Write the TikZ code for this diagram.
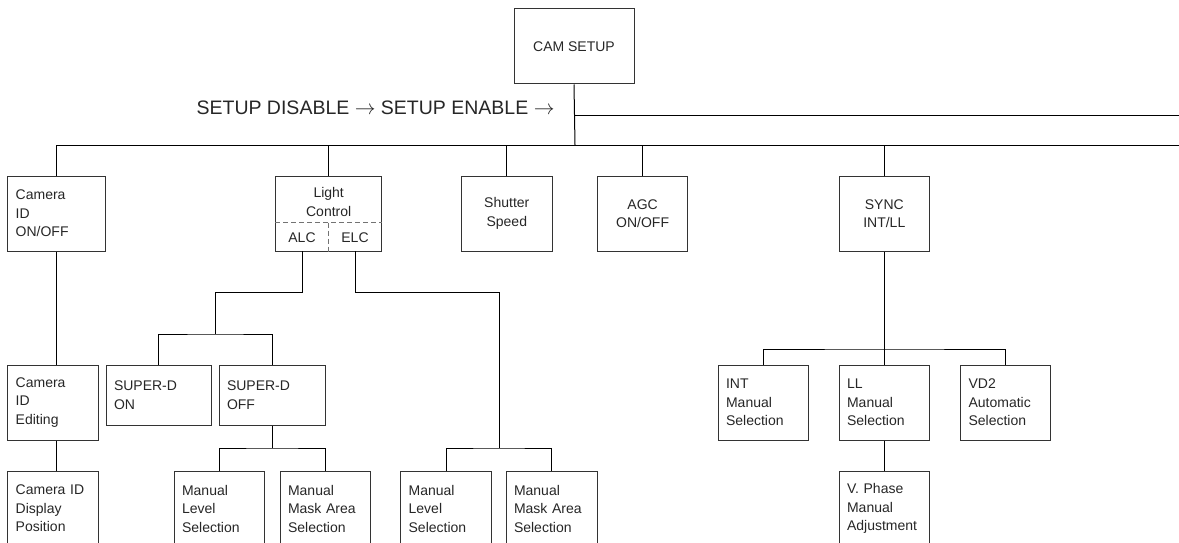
\documentclass[tikz,border=0pt]{standalone}
\usepackage{fontspec}
\setmainfont{Liberation Sans}
\begin{document}
\begin{tikzpicture}[x=1pt,y=-1pt,line width=1pt,
    box/.style={draw=black!80,rectangle,inner sep=0pt,minimum height=75pt,
      font=\fontsize{14}{18.5}\selectfont,text=black!85},
    lbox/.style={box,align=left,text width=#1,inner xsep=8pt},
    cbox/.style={box,align=center,minimum width=#1},
    plain/.style={inner sep=0pt,font=\fontsize{14}{18.5}\selectfont,text=black!85,align=center},
    dashsep/.style={draw=black!55,dash pattern=on 5pt off 3pt}]
  \clip (0,0) rectangle (1179,543);
  \node[cbox=120pt] (cam) at (574,46.5) {CAM SETUP};
  \node[anchor=east,inner sep=0pt,font=\fontsize{19.5}{24}\selectfont,text=black!85] (mode) at (555,108)
    {SETUP DISABLE $\rightarrow$ SETUP ENABLE $\rightarrow$};
  \coordinate (enable) at (575,115);
  \coordinate (enableend) at (1179,115);
  \coordinate (bus) at (575,145);
  \coordinate (busend) at (1179,145);

  \node[lbox=82pt] (camon) at (56.7,213.5) {Camera\\ID\\ON/OFF};
  \node[cbox=105.5pt] (light) at (328.7,213.5) {};
  \node[cbox=90.5pt] (shutter) at (506.8,213.5) {Shutter\\Speed};
  \node[cbox=90pt] (agc) at (642.6,213.5) {AGC\\ON/OFF};
  \node[cbox=90.5pt] (sync) at (884.3,213.5) {SYNC\\INT/LL};

  \node[plain] (lighttxt) at (328.7,202) {Light\\Control};
  \node[plain] (alctxt) at (302,238) {ALC};
  \node[plain] (elctxt) at (355,238) {ELC};
  \coordinate (lsplit) at (328,222.7);
  \coordinate (alc) at (302,251);
  \coordinate (elc) at (355.5,251);

  \node[lbox=74.3pt] (camedit) at (52.9,402.5) {Camera\\ID\\Editing};
  \node[lbox=74.3pt] (camdisp) at (52.9,508.5) {Camera ID\\Display\\Position};

  \node[lbox=89pt,minimum height=60pt] (sdon) at (158.5,395) {SUPER-D\\ON};
  \node[lbox=90pt,minimum height=60pt] (sdoff) at (272,395) {SUPER-D\\OFF};
  \node[lbox=74.5pt] (mlevel) at (219.3,508.5) {Manual\\Level\\Selection};
  \node[lbox=74.5pt] (mmask) at (325.3,508.5) {Manual\\Mask Area\\Selection};
  \node[lbox=74.7pt] (elevel) at (446,508.5) {Manual\\Level\\Selection};
  \node[lbox=75pt] (emask) at (551.5,508.5) {Manual\\Mask Area\\Selection};
  \coordinate (alcbend) at (215.5,292.7);
  \coordinate (sdbus) at (215.5,334);
  \coordinate (mbus) at (272,448);
  \coordinate (elcbend) at (499,292.7);
  \coordinate (ebus) at (499,448);

  \node[lbox=74.5pt] (int) at (763.3,402.5) {INT\\Manual\\Selection};
  \node[lbox=74.5pt] (ll) at (884.3,402.5) {LL\\Manual\\Selection};
  \node[lbox=74.1pt] (vd) at (1005.6,402.5) {VD2\\Automatic\\Selection};
  \node[lbox=74.5pt] (vphase) at (884.3,508.5) {V. Phase\\Manual\\Adjustment};
  \coordinate (syncbus) at (884.3,349);

  \draw (cam.south) -- (bus);
  \draw (enable) -- (enableend);
  \draw (camon.north) |- (busend);
  \foreach \n in {light,shutter,agc,sync}
    \draw (\n.north) -- (\n.north |- bus);

  \draw[dashsep] (light.west |- lsplit) -- (light.east |- lsplit);
  \draw[dashsep] (lsplit) -- (lsplit |- light.south);

  \draw (camon.south) -- (camon.south |- camedit.north);
  \draw (camon.south |- camedit.south) -- (camon.south |- camdisp.north);

  \draw (alc) |- (alcbend) -- (sdbus);
  \draw (sdon.north) |- (sdbus) -| (sdoff.north);
  \draw (sdoff.south) -- (mbus);
  \draw (mlevel.north) |- (mbus) -| (mmask.north);

  \draw (elc) |- (elcbend) -- (ebus);
  \draw (elevel.north) |- (ebus) -| (emask.north);

  \draw (sync.south) -- (syncbus) -- (ll.north);
  \draw (int.north) |- (syncbus) -| (vd.north);
  \draw (ll.south) -- (vphase.north);
\end{tikzpicture}
\end{document}
